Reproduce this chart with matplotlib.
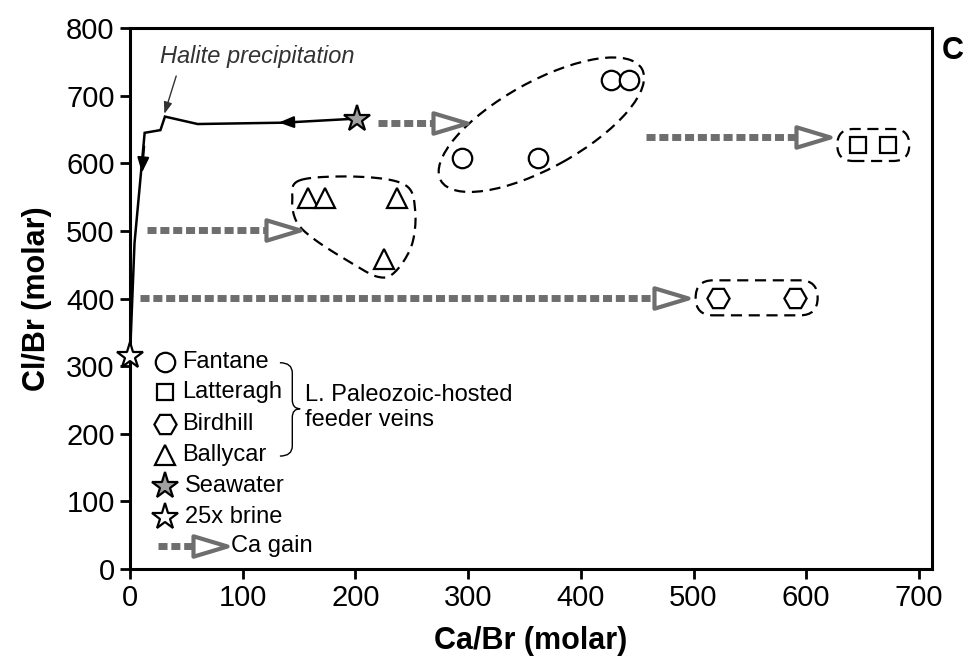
import numpy as np
import matplotlib
matplotlib.use('Agg')
import matplotlib.pyplot as plt
from matplotlib.path import Path
from matplotlib.patches import Ellipse, FancyBboxPatch, PathPatch
import matplotlib.transforms as mtrans

plt.rcParams['font.family'] = ['Liberation Sans', 'DejaVu Sans']

# ---------------- data ----------------
fantane_x = [295, 362, 427, 443]
fantane_y = [608, 608, 723, 723]
latteragh_x = [646, 673]
latteragh_y = [627, 627]
birdhill_x = [522, 590]
birdhill_y = [401, 401]
ballycar_x = [158, 173, 237, 225]
ballycar_y = [548, 548, 548, 459]
seawater_x, seawater_y = [201], [666]
brine_x, brine_y = [0], [315]
evap_x = [201, 136, 60, 31, 27, 13, 4, 0]
evap_y = [666, 660, 658, 669, 649, 645, 482, 315]
# Ca gain arrows
gain_start = [220, 458, 15, 9]
gain_tip = [299, 621, 151, 495]
gain_y = [660, 639, 501, 401]

xticks = [0, 100, 200, 300, 400, 500, 600, 700]
yticks = [0, 100, 200, 300, 400, 500, 600, 700, 800]

legend_labels = ['Fantane', 'Latteragh', 'Birdhill', 'Ballycar', 'Seawater', '25x brine', 'Ca gain']
legend_y = [306, 262, 214, 169, 123, 77, 34]

GRAY = '#6e6e6e'

fig = plt.figure(figsize=(9.72, 6.57), dpi=100)
ax = fig.add_axes([130/972, 1-569/657, (932-130)/972, (569-28)/657])
ax.set_xlim(0, 711.6)
ax.set_ylim(0, 800)

for s in ax.spines.values():
    s.set_linewidth(2.2)
ax.set_xticks(xticks)
ax.set_yticks(yticks)
ax.tick_params(axis='both', direction='out', length=7, width=2.0, labelsize=21, pad=4)
ax.tick_params(top=False, right=False)
ax.set_xlabel('Ca/Br (molar)', fontsize=22, fontweight='bold', labelpad=10)
ax.set_ylabel('Cl/Br (molar)', fontsize=22, fontweight='bold', labelpad=10)

# pixel scale helpers
def px_per_unit():
    p0 = ax.transData.transform((0, 0))
    p1 = ax.transData.transform((1, 1))
    return p1[0] - p0[0], p1[1] - p0[1]
pxx, pxy = px_per_unit()

# evaporation curve
ax.plot(evap_x, evap_y, color='black', lw=1.8, zorder=3, solid_joinstyle='miter')
ax.annotate('', xy=(evap_x[1] - 4, 660.2), xytext=(evap_x[1] + 12, 661),
            arrowprops=dict(arrowstyle='-|>,head_length=0.9,head_width=0.35', color='black', lw=1.5,
                            shrinkA=0, shrinkB=0), zorder=4)
ax.annotate('', xy=(10.6, 586), xytext=(12.6, 625),
            arrowprops=dict(arrowstyle='-|>,head_length=0.9,head_width=0.35', color='black', lw=1.5,
                            shrinkA=0, shrinkB=0), zorder=4)

# halite precipitation
ax.text(113, 758, 'Halite precipitation', fontsize=17, style='italic', color='#333333',
        ha='center', va='center')
ax.annotate('', xy=(30.5, 673), xytext=(41, 729),
            arrowprops=dict(arrowstyle='-|>,head_length=0.7,head_width=0.25', color='#333333', lw=1.0,
                            shrinkA=0, shrinkB=0))

# Ca gain arrows
head_verts = [(-1, -0.6), (1, 0), (-1, 0.6), (-1, -0.6)]
head_marker = Path(head_verts, [Path.MOVETO, Path.LINETO, Path.LINETO, Path.CLOSEPOLY])
HEAD_MS = 24.5
head_half_px = HEAD_MS / 72 * 100 / 2

def gain_arrow(x0, x1, y, zorder=2):
    head_len = 2 * head_half_px / pxx
    ax.plot([x0, x1 - head_len + 1], [y, y], color=GRAY, lw=5.0,
            dashes=(1.3, 0.55), dash_capstyle='butt', solid_capstyle='butt', zorder=zorder)
    tr = ax.transData + mtrans.ScaledTranslation(-head_half_px / 100, 0, fig.dpi_scale_trans)
    ax.plot([x1], [y], marker=head_marker, ms=HEAD_MS, mfc='white', mec=GRAY, mew=3.0,
            transform=tr, zorder=zorder + 0.5, clip_on=False)

for x0, x1, y in zip(gain_start, gain_tip, gain_y):
    gain_arrow(x0, x1, y)

# enclosures (dashed)
dash_kw = dict(fill=False, edgecolor='black', lw=1.6, linestyle=(0, (5, 3)), zorder=2)

def pix_trans(cx, cy):
    return mtrans.Affine2D() + mtrans.ScaledTranslation(cx, cy, ax.transData)

ax.add_patch(Ellipse((0, 0), 230, 86, angle=29, transform=pix_trans(365, 657), **dash_kw))
ax.add_patch(FancyBboxPatch((-36, -16), 72, 32, boxstyle='round,pad=0,rounding_size=16',
                            transform=pix_trans(659.5, 627), **dash_kw))
ax.add_patch(FancyBboxPatch((-61, -17.5), 122, 35, boxstyle='round,pad=0,rounding_size=17.5',
                            transform=pix_trans(556, 401), **dash_kw))

# Ballycar enclosure: closed Catmull-Rom spline through points
ctrl = np.array([(151, 575), (204, 580), (244, 568), (253, 531), (250, 479), (235, 439),
                 (220, 432), (195, 454), (164, 487), (148, 513), (144, 546)], float)
n = len(ctrl)
pts = []
for i in range(n):
    p0, p1, p2, p3 = ctrl[(i - 1) % n], ctrl[i], ctrl[(i + 1) % n], ctrl[(i + 2) % n]
    for t in np.linspace(0, 1, 12, endpoint=False):
        t2, t3 = t * t, t * t * t
        pts.append(0.5 * ((2 * p1) + (-p0 + p2) * t + (2 * p0 - 5 * p1 + 4 * p2 - p3) * t2
                          + (-p0 + 3 * p1 - 3 * p2 + p3) * t3))
pts.append(pts[0])
pts = np.array(pts)
ax.plot(pts[:, 0], pts[:, 1], color='black', lw=1.6, linestyle=(0, (5, 3)), zorder=2)

# data markers
mk = dict(mfc='white', mec='black', mew=1.6, ls='none', zorder=5)
ax.plot(fantane_x, fantane_y, marker='o', ms=14, **mk)
ax.plot(latteragh_x, latteragh_y, marker='s', ms=11.5, **mk)
ax.plot(birdhill_x, birdhill_y, marker='H', ms=16, **mk)
ax.plot(ballycar_x, ballycar_y, marker='^', ms=14.5, **mk)
ax.plot(seawater_x, seawater_y, marker='*', ms=20, mfc='#a0a0a0', mec='black', mew=1.6,
        ls='none', zorder=6)
ax.plot(brine_x, brine_y, marker='*', ms=20, mfc='white', mec='black', mew=1.6,
        ls='none', zorder=6, clip_on=False)

# legend (manual)
lx_marker, lx_text = 31, 46
leg_markers = [('o', 14, 'white'), ('s', 11.5, 'white'), ('H', 16, 'white'), ('^', 14.5, 'white'),
               ('*', 20, '#a0a0a0'), ('*', 20, 'white')]
for (m, ms, fc), yy, lab in zip(leg_markers, legend_y[:6], legend_labels[:6]):
    ax.plot([lx_marker], [yy], marker=m, ms=ms, mfc=fc, mec='black', mew=1.6, ls='none', zorder=5)
    ax.text(lx_text + (3 if m == '*' else 0), yy, lab, fontsize=17, ha='left', va='center')
gain_arrow(25, 86, legend_y[6])
ax.text(90, legend_y[6], legend_labels[6], fontsize=17, ha='left', va='center')

# brace
bx0, bx1, bx2 = 133, 144, 151
ytop, ymid, ybot = 305, 237, 167
verts = [(bx0, ytop), (bx1, ytop), (bx1, ytop - 15), (bx1, ymid + 13), (bx1, ymid), (bx2, ymid),
         (bx1, ymid), (bx1, ymid - 13), (bx1, ybot + 15), (bx1, ybot), (bx0, ybot)]
codes = [Path.MOVETO, Path.CURVE3, Path.CURVE3, Path.LINETO, Path.CURVE3, Path.CURVE3,
         Path.CURVE3, Path.CURVE3, Path.LINETO, Path.CURVE3, Path.CURVE3]
ax.add_patch(PathPatch(Path(verts, codes), fill=False, edgecolor='black', lw=1.0))
ax.text(155, 257, 'L. Paleozoic-hosted', fontsize=17, ha='left', va='center')
ax.text(155, 220, 'feeder veins', fontsize=17, ha='left', va='center')

# panel label
fig.text(953 / 972, 1 - 51 / 657, 'C', fontsize=22, fontweight='bold', ha='center', va='center')

fig.savefig('out.png', dpi=100)
